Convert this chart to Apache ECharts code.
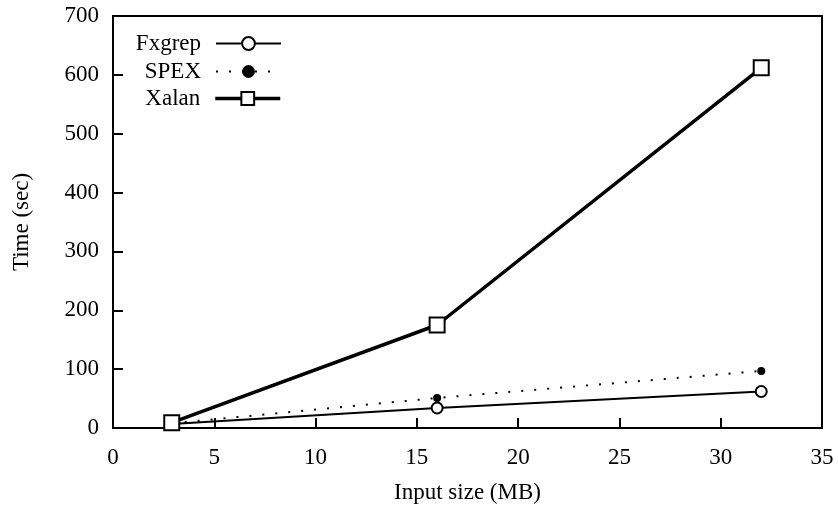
<!DOCTYPE html>
<html lang="en">
  <head>
    <meta charset="UTF-8" />
    <title>Time vs input size</title>
    <style>
      html, body { margin: 0; padding: 0; background: #fff; }
      #main { width: 838px; height: 509px; }
    </style>
  </head>
  <body>
    <script src="https://cdn.jsdelivr.net/npm/echarts@6/dist/echarts.min.js"></script>
    <div id="main"></div>
    <script>
      // input sizes (MB) and times (sec)
      const sizes = [2.9, 16, 32]
      const fxgrep = [7, 34, 62]
      const spex = [8, 51, 97]
      const xalan = [9, 175, 612]

      const font = 'Liberation Serif'
      const pairs = vals => sizes.map((s, i) => [s, vals[i]])

      const legendAt = (name, top, lineWidth) => ({
        data: [name],
        orient: 'vertical',
        align: 'right',
        right: 551,
        top,
        itemWidth: 65,
        itemHeight: 16,
        lineStyle: { width: lineWidth },
        textStyle: { fontFamily: font, fontSize: 23, color: '#000', padding: [0, 10, 0, 0] }
      })

      const chart = echarts.init(document.getElementById('main'))
      chart.setOption({
        animation: false,
        grid: {
          left: 113, right: 16, top: 16, bottom: 79,
          show: true, borderColor: '#000', borderWidth: 2
        },
        legend: [legendAt('Fxgrep', 27, 2), legendAt('SPEX', 55, 2), legendAt('Xalan', 82, 3.5)],
        xAxis: {
          type: 'value', min: 0, max: 35, interval: 5,
          name: 'Input size (MB)', nameLocation: 'middle', nameGap: 53,
          nameTextStyle: { fontFamily: font, fontSize: 23, color: '#000' },
          axisLine: { lineStyle: { color: '#000', width: 2 } },
          axisTick: { inside: true, length: 10, lineStyle: { color: '#000', width: 2 } },
          axisLabel: { fontFamily: font, fontSize: 23, color: '#000', margin: 18 },
          splitLine: { show: false }
        },
        yAxis: {
          type: 'value', min: 0, max: 700, interval: 100,
          name: 'Time (sec)', nameLocation: 'middle', nameGap: 80,
          nameTextStyle: { fontFamily: font, fontSize: 23, color: '#000' },
          axisLine: { show: true, lineStyle: { color: '#000', width: 2 } },
          axisTick: { show: true, inside: true, length: 10, lineStyle: { color: '#000', width: 2 } },
          axisLabel: { fontFamily: font, fontSize: 23, color: '#000', margin: 14 },
          splitLine: { show: false }
        },
        series: [
          {
            name: 'Fxgrep', type: 'line', data: pairs(fxgrep),
            symbol: 'emptyCircle', symbolSize: 11,
            lineStyle: { color: '#000', width: 2 },
            itemStyle: { color: '#000', borderColor: '#444', borderWidth: 1 }
          },
          {
            name: 'SPEX', type: 'line', data: pairs(spex),
            symbol: 'circle', symbolSize: 8,
            lineStyle: { color: '#000', width: 2, type: [2, 11] },
            itemStyle: { color: '#000' }
          },
          {
            name: 'Xalan', type: 'line', data: pairs(xalan),
            symbol: 'emptyRect', symbolSize: 15,
            lineStyle: { color: '#000', width: 3.5 },
            itemStyle: { color: '#000', borderColor: '#666', borderWidth: 1 }
          }
        ]
      })
    </script>
  </body>
</html>
